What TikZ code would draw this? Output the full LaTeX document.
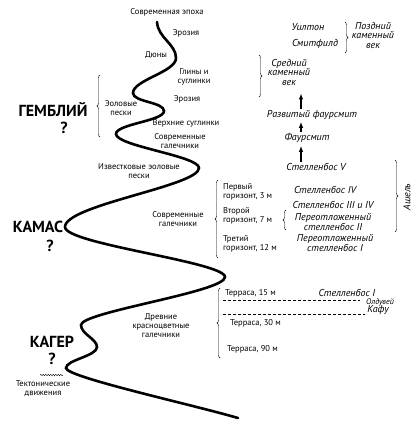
\documentclass[tikz,border=0pt]{standalone}
\usepackage{fontspec}
\setmainfont{PT Sans}
\usetikzlibrary{arrows.meta,decorations.pathreplacing,decorations.pathmorphing}
\tikzset{every path/.style={black}, every node/.style={inner sep=0pt},
  lbl/.style={font=\fontsize{8.5}{9}\selectfont, align=center},
  site/.style={font=\fontsize{10}{9.5}\selectfont\itshape, align=center},
  big/.style={font=\fontsize{16}{16}\selectfont\bfseries},
  brc/.style={decorate, decoration={brace, amplitude=3pt}, thin},
  dl/.style={thin, dash pattern=on 3pt off 2pt},
  arr/.style={-{Latex[length=6pt,width=4.5pt]}, line width=1.5pt},
  curve/.style={line width=2.6pt, line cap=round}}

\begin{document}
\begin{tikzpicture}[x=1pt,y=-1pt]
   \useasboundingbox (0,0) rectangle (417,421);
   \draw[curve] (157,22) .. controls (158,38) and (176,44) .. (176,58)
                .. controls (176,72) and (133,80) .. (133,93)
                .. controls (133,102) and (164,102) .. (164,111)
                .. controls (164,121) and (116,124) .. (116,134)
                .. controls (116,146) and (199,156) .. (199,168)
                .. controls (199,186) and (65,205) .. (65,227)
                .. controls (65,244) and (225,262) .. (225,277)
                .. controls (225,292) and (81,312) .. (81,325)
                .. controls (81,334) and (97,339) .. (97,347)
                .. controls (97,356) and (66,360) .. (66,368)
                .. controls (66,377) and (190,404) .. (238,418);
   \node[lbl] (epoha) at (167,12) {Современная эпоха};
   \node[lbl] (eroz1) at (186,33) {Эрозия};
   \node[lbl] (dyuny) at (156,55) {Дюны};
   \node[lbl] (gliny) at (194,77) {Глины и\\суглинки};
   \node[lbl] (eol)   at (121,108) {Эоловые\\пески};
   \node[lbl] (eroz2) at (187,99) {Эрозия};
   \node[lbl] (verh)  at (186,123) {Верхние суглинки};
   \node[lbl] (gal1)  at (180,141) {Современные\\галечники};
   \node[lbl] (izv)   at (139,171) {Известковые эоловые\\пески};
   \node[lbl] (gal2)  at (178,219) {Современные\\галечники};
   \node[lbl] (drev)  at (161,326) {Древние\\красноцветные\\галечники};
   \node[big] (gembl) at (53,110) {ГЕМБЛИЙ};
   \node[big] (q1)    at (64,128) {?};
   \node[big] (kamas) at (38,227) {КАМАС};
   \node[big] (q2)    at (50,246) {?};
   \node[big] (kager) at (52,342) {КАГЕР};
   \node[big] (q3)    at (52,359) {?};
   \node[lbl] (tekt)  at (43,389) {Тектонические\\движения};
   \draw[decorate, decoration={snake, amplitude=0.7pt, segment length=2.5pt}] (40,375) -- (63,375);
   \draw[brc] (100,137) -- (100,75);
   \node[site] (uilton) at (308,27) {Уилтон};
   \node[site] (smit)   at (315,44) {Смитфилд};
   \node[site] (pozd)   at (373,35) {Поздний\\каменный\\век};
   \draw[brc] (345,22) -- (345,53);
   \node[site] (sred)   at (289,72) {Средний\\каменный\\век};
   \draw[brc] (259,55) -- (259,97);
   \node[site] (razv)   at (312,115) {Развитый фаурсмит};
   \node[site] (faur)   at (307,138) {Фаурсмит};
   \node[site] (st5)    at (316,167) {Стелленбос V};
   \coordinate (ax) at (301,0);
   \draw[arr, shorten <=1pt, shorten >=3pt] (st5.north -| ax) -- (faur.south -| ax);
   \draw[arr, shorten <=1pt, shorten >=2pt] (faur.north -| ax) -- (razv.south -| ax);
   \draw[arr, shorten <=1pt, shorten >=8pt] (razv.north -| ax) -- (sred.south -| ax);
   \node[lbl, align=left, anchor=west] (gor1) at (223,192) {Первый\\горизонт, 3 м};
   \node[lbl, align=left, anchor=west] (gor2) at (223,216) {Второй\\горизонт, 7 м};
   \node[lbl, align=left, anchor=west] (gor3) at (223,244) {Третий\\горизонт, 12 м};
   \draw[brc] (218,258) -- (218,180);
   \node[site] (st4)  at (325,190) {Стелленбос IV};
   \node[site] (st34) at (333,205) {Стелленбос III и IV};
   \node[site] (per2) at (333,222) {Переотложенный\\стелленбос II};
   \draw[brc] (286,230) -- (286,210);
   \node[site] (per1) at (335,243) {Переотложенный\\стелленбос I};
   \draw[brc] (395,160) -- (395,232);
   \node[site, rotate=90] (ashel) at (407,197) {Ашель};
   \node[lbl, anchor=west] (ter15) at (225,293) {Терраса, 15 м};
   \node[site] (st1) at (347,293) {Стелленбос I};
   \draw[dl] (223,300) -- (360,300);
   \node[site, font=\fontsize{8}{8}\selectfont\itshape] (olduv) at (380,302) {Олдувей};
   \draw[dl] (223,314) -- (365,314);
   \node[site] (kafu) at (378,310) {Кафу};
   \node[lbl, anchor=west] (ter30) at (230,323) {Терраса, 30 м};
   \node[lbl, anchor=west] (ter90) at (227,349) {Терраса, 90 м};
   \draw[brc] (220,358) -- (220,288);
\end{tikzpicture}
\end{document}
